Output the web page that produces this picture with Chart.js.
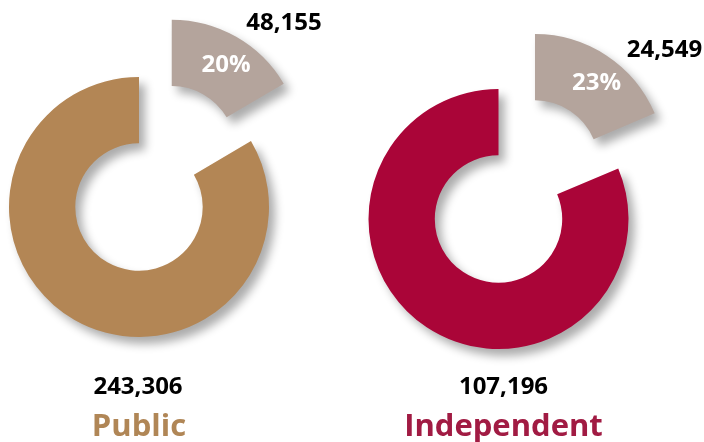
<!DOCTYPE html>
<html>
<head>
<meta charset="utf-8">
<script src="https://cdn.jsdelivr.net/npm/chart.js@4.4.0/dist/chart.umd.min.js"></script>
<style>
  html, body { margin: 0; padding: 0; background: #fff; }
  #wrap { position: relative; width: 704px; height: 442px; overflow: hidden; }
  .box { position: absolute; top: 0; width: 352px; height: 442px; }
</style>
</head>
<body>
<div id="wrap">
  <div class="box" style="left:0"><canvas id="cPublic" width="352" height="442"></canvas></div>
  <div class="box" style="left:352px"><canvas id="cIndependent" width="352" height="442"></canvas></div>
</div>
<script>
// Dados
const sectors = ['Public', 'Independent'];
const mainValues = [243306, 107196];
const otherValues = [48155, 24549];
const shareLabels = ['20%', '23%'];

const mainColors = ['#b38655', '#aa0538'];
const titleColors = ['#b08656', '#a11b43'];
const otherColor = '#b4a49c';
const FONT = '"Open Sans", "Noto Sans", sans-serif';

// desenha a fatia destacada deslocada + sombra, depois os textos
const explodePlugin = {
  id: 'explode',
  beforeDatasetDraw(chart, args, opts) {
    const ctx = chart.ctx;
    ctx.save();
    ctx.shadowColor = 'rgba(0,0,0,0.33)';
    ctx.shadowBlur = 10;
    ctx.shadowOffsetX = 6;
    ctx.shadowOffsetY = 7;
    args.meta.data.forEach((arc, i) => {
      ctx.save();
      if (i === 0) {
        const mid = (arc.startAngle + arc.endAngle) / 2;
        ctx.translate(Math.cos(mid) * opts.distance, Math.sin(mid) * opts.distance);
      }
      arc.draw(ctx);
      ctx.restore();
    });
    ctx.restore();
    return false;
  },
  afterDatasetsDraw(chart, args, opts) {
    const ctx = chart.ctx;
    const arc = chart.getDatasetMeta(0).data[0];
    const cx = arc.x, cy = arc.y;
    ctx.save();
    ctx.textAlign = 'center';
    ctx.textBaseline = 'middle';
    for (const t of opts.texts) {
      ctx.font = `bold ${t.size}px ${FONT}`;
      ctx.fillStyle = t.color;
      ctx.fillText(t.text, cx + t.dx, cy + t.dy);
    }
    ctx.restore();
  }
};

function fmt(n) { return n.toLocaleString('en-US'); }

function makeChart(id, i, padding, pos) {
  return new Chart(document.getElementById(id), {
    type: 'doughnut',
    data: {
      labels: ['Other', sectors[i]],
      datasets: [{
        data: [otherValues[i], mainValues[i]],
        backgroundColor: [otherColor, mainColors[i]],
        borderWidth: 0
      }]
    },
    options: {
      responsive: false,
      animation: false,
      cutout: '49%',
      layout: { padding },
      plugins: {
        legend: { display: false },
        tooltip: { enabled: false },
        explode: {
          distance: 66,
          texts: [
            { text: fmt(otherValues[i]), dx: pos.other[0], dy: pos.other[1], size: 24, color: '#000' },
            { text: shareLabels[i], dx: pos.share[0], dy: pos.share[1], size: 24, color: '#fff' },
            { text: fmt(mainValues[i]), dx: pos.main[0], dy: pos.main[1], size: 24, color: '#000' },
            { text: sectors[i], dx: pos.title[0], dy: pos.title[1], size: 31, color: titleColors[i] }
          ]
        }
      }
    },
    plugins: [explodePlugin]
  });
}

makeChart('cPublic', 0, { left: 9, top: 77, right: 83, bottom: 105 },
  { other: [145, -184], share: [87, -142], main: [-1, 180], title: [0, 220] });
makeChart('cIndependent', 1, { left: 16, top: 89, right: 75, bottom: 93 },
  { other: [166, -169], share: [98, -136], main: [5, 168], title: [5, 208] });
</script>
</body>
</html>
